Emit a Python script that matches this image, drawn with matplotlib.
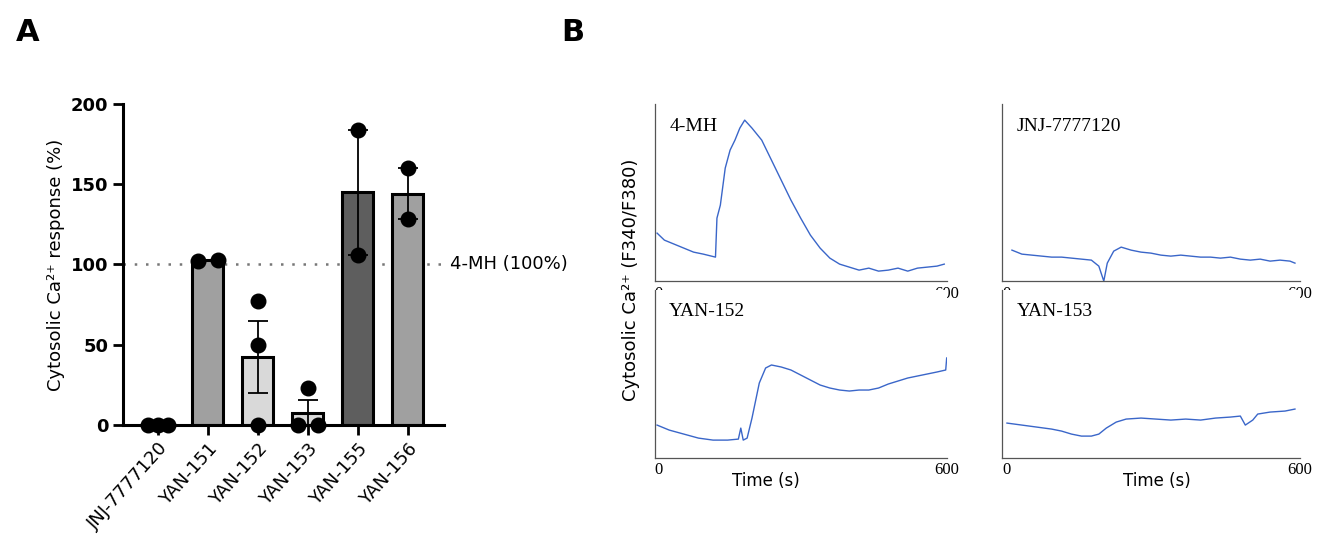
import matplotlib.pyplot as plt
import numpy as np

# Panel A data
groups = ['JNJ-7777120', 'YAN-151', 'YAN-152', 'YAN-153', 'YAN-155', 'YAN-156']
points = [[0, 0, 0], [102, 103], [77, 50, 0], [23, 0, 0], [184, 106], [160, 128]]
point_offsets = [[-0.2, 0, 0.2], [-0.2, 0.2], [0, 0, 0], [0, -0.2, 0.2], [0, 0], [0, 0]]
bar_colors = ['#ffffff', '#a0a0a0', '#d9d9d9', '#d9d9d9', '#5e5e5e', '#a0a0a0']

# Panel B traces (time s, arbitrary ratio units)
t_4mh = [5, 20, 40, 60, 80, 100, 125, 128, 135, 145, 155, 165, 175, 185, 200, 220, 240, 260, 280,
         300, 320, 340, 360, 380, 400, 420, 440, 460, 480, 500, 520, 540, 560, 580, 595]
v_4mh = [48, 41, 37, 33, 29, 27, 24, 63, 76, 113, 131, 141, 153, 161, 153, 141, 121, 101, 81,
         63, 46, 33, 23, 17, 14, 11, 13, 10, 11, 13, 10, 13, 14, 15, 17]
t_jnj = [20, 40, 60, 80, 100, 120, 140, 160, 180, 195, 205, 212, 225, 240, 260, 280, 300, 320,
         340, 360, 380, 400, 420, 440, 460, 480, 500, 520, 540, 560, 580, 590]
v_jnj = [31, 27, 26, 25, 24, 24, 23, 22, 21, 15, 0, 18, 30, 34, 31, 29, 28, 26,
         25, 26, 25, 24, 24, 23, 24, 22, 21, 22, 20, 21, 20, 18]
t_152 = [5, 30, 60, 90, 120, 150, 172, 177, 182, 190, 200, 215, 228, 240, 260, 280, 300, 320,
         340, 360, 380, 400, 420, 440, 460, 480, 500, 520, 540, 560, 580, 598, 600]
v_152 = [33, 28, 24, 20, 18, 18, 19, 30, 18, 20, 40, 75, 90, 93, 91, 88, 83, 78,
         73, 70, 68, 67, 68, 68, 70, 74, 77, 80, 82, 84, 86, 88, 100]
t_153 = [10, 40, 70, 100, 120, 140, 160, 180, 195, 210, 230, 250, 280, 310, 340, 370, 400,
         430, 460, 480, 490, 505, 515, 540, 570, 590]
v_153 = [35, 33, 31, 29, 27, 24, 22, 22, 24, 30, 36, 39, 40, 39, 38, 39, 38,
         40, 41, 42, 33, 38, 44, 46, 47, 49]

fig = plt.figure(figsize=(13.36, 5.48), dpi=100)

# ---- Panel A ----
ax = fig.add_axes([0.092, 0.2245, 0.240, 0.586])
x = np.arange(len(groups))
means = [np.mean(p) for p in points]
sems = [np.std(p, ddof=1) / np.sqrt(len(p)) for p in points]
ax.bar(x, means, width=0.62, color=bar_colors, edgecolor='black', linewidth=2.2, zorder=2)
for i, p in enumerate(points):
    if means[i] > 0:
        ax.errorbar(x[i], means[i], yerr=sems[i], color='black', capsize=7, lw=1.3, capthick=1.3, zorder=3)
    ax.scatter(x[i] + np.array(point_offsets[i]), p, s=110, color='black', zorder=4, clip_on=False)
ax.axhline(100, color='#777777', ls=(0, (1, 3.5)), lw=1.8, zorder=1)
ax.text(1.02, 100, '4-MH (100%)', transform=ax.get_yaxis_transform(), va='center', fontsize=13)
ax.set_ylim(0, 200)
ax.set_xlim(-0.7, 5.72)
ax.set_yticks([0, 50, 100, 150, 200])
ax.tick_params(axis='y', labelsize=13, width=2, length=7)
for lbl in ax.get_yticklabels():
    lbl.set_fontweight('bold')
ax.set_xticks(x)
ax.set_xticklabels(groups, rotation=48, ha='right', rotation_mode='anchor', fontsize=13)
ax.tick_params(axis='x', width=2, length=7)
for s in ['top', 'right']:
    ax.spines[s].set_visible(False)
for s in ['left', 'bottom']:
    ax.spines[s].set_linewidth(2.2)
ax.set_ylabel('Cytosolic Ca²⁺ response (%)', fontsize=13)

# ---- Panel B ----
traces = [(t_4mh, v_4mh, '4-MH', [0.490, 0.487, 0.2186, 0.323], 177),
          (t_jnj, v_jnj, 'JNJ-7777120', [0.750, 0.487, 0.223, 0.323], 177),
          (t_152, v_152, 'YAN-152', [0.490, 0.164, 0.2186, 0.307], 168),
          (t_153, v_153, 'YAN-153', [0.750, 0.164, 0.223, 0.307], 168)]
for tt, vv, name, pos, top in traces:
    a = fig.add_axes(pos)
    a.plot(tt, vv, color='#3a66c9', lw=1)
    a.set_xlim(0, 600)
    a.set_ylim(0, top)
    a.set_xticks([])
    a.set_yticks([])
    for s in ['top', 'right']:
        a.spines[s].set_visible(False)
    for s in ['left', 'bottom']:
        a.spines[s].set_color('#555555')
        a.spines[s].set_linewidth(0.9)
    a.text(0.05, 0.92, name, transform=a.transAxes, family='Liberation Serif', fontsize=14, va='top')
    a.text(0.0, -0.025, '0', transform=a.transAxes, family='Liberation Serif', fontsize=12, va='top')
    a.text(1.0, -0.025, '600', transform=a.transAxes, family='Liberation Serif', fontsize=12, va='top', ha='center')
    if name.startswith('YAN'):
        a.set_xlabel('Time (s)', fontsize=12)
        a.xaxis.set_label_coords(0.38 if name == 'YAN-152' else 0.52, -0.08)

fig.text(0.472, 0.49, 'Cytosolic Ca²⁺ (F340/F380)', rotation=90, va='center', ha='center', fontsize=13)
fig.text(0.012, 0.925, 'A', fontsize=22, fontweight='bold')
fig.text(0.42, 0.925, 'B', fontsize=22, fontweight='bold')

fig.savefig('out.png', dpi=100)
